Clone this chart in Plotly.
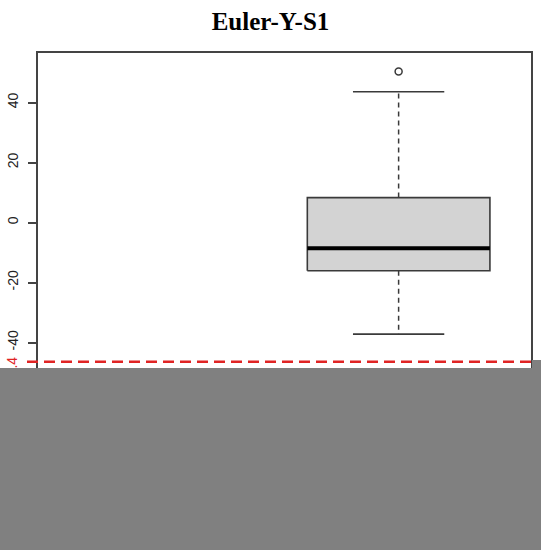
import plotly.graph_objects as go

# ---- data ----
title_text = "Euler-Y-S1"
box_position = 2          # second slot on an x axis with two slots
q1 = -16.1
median = -8.6
q3 = 8.3
lower_whisker = -37.2
upper_whisker = 43.6
outliers = [50.3]
threshold = -46.4
y_tick_vals = [-40, -20, 0, 20, 40]
y_tick_text = ["-40", "-20", "0", "20", "40"]

# ---- style ----
half_w = 0.4
cap_half = 0.2
line_col = "#3a3a3a"
threshold_label_shift = 4.4   # label sits a little below its line (style offset)

fig = go.Figure()

# box body
fig.add_trace(go.Scatter(
    x=[box_position - half_w, box_position + half_w, box_position + half_w,
       box_position - half_w, box_position - half_w],
    y=[q1, q1, q3, q3, q1],
    mode="lines", fill="toself", fillcolor="#D3D3D3",
    line=dict(color=line_col, width=1.6), hoverinfo="skip"))

# whiskers (dashed)
for a, b in [(q3, upper_whisker), (q1, lower_whisker)]:
    fig.add_trace(go.Scatter(x=[box_position, box_position], y=[a, b], mode="lines",
                             line=dict(color=line_col, width=1.5, dash="5px,4px")))
# caps
for v in [upper_whisker, lower_whisker]:
    fig.add_trace(go.Scatter(x=[box_position - cap_half, box_position + cap_half], y=[v, v],
                             mode="lines", line=dict(color=line_col, width=1.6)))
# median
fig.add_trace(go.Scatter(x=[box_position - half_w, box_position + half_w], y=[median, median],
                         mode="lines", line=dict(color="black", width=4)))
# outliers
fig.add_trace(go.Scatter(x=[box_position] * len(outliers), y=outliers, mode="markers",
                         marker=dict(symbol="circle-open", size=7, color=line_col,
                                     line=dict(width=1.5))))
# invisible trace on second y axis (carries the red threshold label)
fig.add_trace(go.Scatter(x=[box_position], y=[threshold], yaxis="y2", mode="markers",
                         marker=dict(opacity=0), hoverinfo="skip"))

W, H = 541, 550
L, R, T, B = 38, 10, 53, 50
pw, ph = W - L - R, H - T - B

def px_x(p):
    return (p - L) / pw

def px_y(p):
    return (H - B - p) / ph

# red threshold line
fig.add_shape(type="line", xref="paper", yref="y", x0=px_x(27), x1=1,
              y0=threshold, y1=threshold,
              line=dict(color="#e02424", width=2.5, dash="11px,6px"), layer="above")

# grey covering block
fig.add_shape(type="rect", xref="paper", yref="paper",
              x0=px_x(0), x1=px_x(W), y0=px_y(H), y1=px_y(368),
              fillcolor="#808080", line=dict(width=0), layer="above")
fig.add_shape(type="rect", xref="paper", yref="paper",
              x0=px_x(532), x1=px_x(W), y0=px_y(368.5), y1=px_y(360),
              fillcolor="#808080", line=dict(width=0), layer="above")

y_range = [(222.5 - (H - B)) / 3, (222.5 - T) / 3]
tick_font = dict(family="Liberation Sans", size=14, color="#222")

fig.update_layout(
    width=W, height=H,
    margin=dict(l=L, r=R, t=T, b=B, autoexpand=False),
    paper_bgcolor="white", plot_bgcolor="white",
    showlegend=False,
    title=dict(text="<b>%s</b>" % title_text, x=0.5, xanchor="center", y=1 - 21 / H,
               yanchor="middle", automargin=False,
               font=dict(family="Liberation Serif", size=25, color="black")),
    xaxis=dict(range=[0.42, 2.58], showgrid=False, zeroline=False, showticklabels=False,
               ticks="", showline=True, linecolor="#444", linewidth=1.5, mirror=True,
               automargin=False),
    yaxis=dict(range=y_range, showgrid=False, zeroline=False,
               tickvals=y_tick_vals, ticktext=y_tick_text, tickangle=-90,
               ticks="outside", ticklen=8, tickcolor="#444", tickwidth=1.5,
               tickfont=tick_font, ticklabelstandoff=5,
               showline=True, linecolor="#444", linewidth=1.5, mirror=True,
               automargin=False),
    yaxis2=dict(range=y_range, overlaying="y", side="left", anchor="x",
                showgrid=False, zeroline=False, showline=False,
                tickvals=[threshold - threshold_label_shift], ticktext=["%s" % threshold],
                tickangle=-90, ticks="outside", ticklen=8, tickcolor="rgba(0,0,0,0)",
                tickfont=dict(family="Liberation Sans", size=14, color="#e02424"),
                ticklabelstandoff=6, automargin=False),
)

fig.write_html("out.html", config={"displayModeBar": False},
               post_script="document.body.style.margin='0';document.body.style.overflow='hidden';")
